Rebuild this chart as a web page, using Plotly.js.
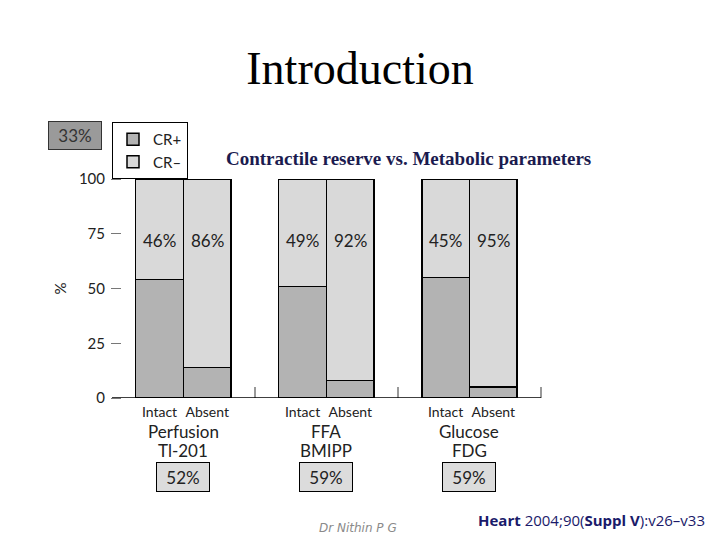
<!DOCTYPE html>
<html>
<head>
<meta charset="utf-8">
<script src="https://cdn.plot.ly/plotly-3.0.1.min.js"></script>
<style>html,body{margin:0;padding:0;background:#fff;}#chart{width:720px;height:540px;}</style>
</head>
<body>
<div id="chart"></div>
<script>
// ---- data ----
const categories = ["Intact", "Absent", "Intact", "Absent", "Intact", "Absent"];
const groupNames = ["Perfusion", "FFA", "Glucose"];
const tracerNames = ["Tl-201", "BMIPP", "FDG"];
const crPlus  = [54, 14, 51, 8, 55, 5];
const crMinus = [46, 86, 49, 92, 45, 95];
const crMinusLabels = ["46%", "86%", "49%", "92%", "45%", "95%"];
const groupPct = ["52%", "59%", "59%"];
const overallPct = "33%";
const yTicks = [0, 25, 50, 75, 100];

// positions: two bars per group, one empty slot between groups
const xPos = categories.map((c, i) => Math.floor(i / 2) * 3 + (i % 2));
const groupCenters = groupNames.map((g, k) => k * 3 + 0.5);
const separators = groupNames.map((g, k) => k * 3 + 2);

const font = "Lato, 'DejaVu Sans', sans-serif";
const ink = "#222";

const traces = [
  {type: "bar", name: "CR+", x: xPos, y: crPlus,
   marker: {color: "#b3b3b3", line: {color: "#000", width: 1.5}}, cliponaxis: false, hoverinfo: "skip"},
  {type: "bar", name: "CR–", x: xPos, y: crMinus,
   marker: {color: "#d9d9d9", line: {color: "#000", width: 1.5}}, cliponaxis: false, hoverinfo: "skip"}
];

const plotL = 122, plotR = 541, plotT = 179, plotB = 398;
const pw = plotR - plotL, ph = plotB - plotT;
const px = (X) => (X - plotL) / pw;
const py = (Y) => (plotB - Y) / ph;

const C = {xanchor: "center", yanchor: "middle", showarrow: false};
const annotations = [];
crMinusLabels.forEach((t, i) => {
  annotations.push(Object.assign({x: xPos[i], y: 72, xref: "x", yref: "y", text: t,
    font: {family: font, size: 17, color: ink}}, C));
});
groupNames.forEach((g, k) => {
  annotations.push(Object.assign({x: groupCenters[k], y: py(431), xref: "x", yref: "paper", text: g,
    font: {family: font, size: 17, color: ink}}, C));
  annotations.push(Object.assign({x: groupCenters[k], y: py(450), xref: "x", yref: "paper", text: tracerNames[k],
    font: {family: font, size: 17, color: ink}}, C));
  annotations.push(Object.assign({x: groupCenters[k], y: py(477), xref: "x", yref: "paper", text: groupPct[k],
    font: {family: font, size: 17, color: ink}, bgcolor: "#dcdcdc", bordercolor: "#000", borderwidth: 1,
    width: 50, height: 26}, C));
});
annotations.push(Object.assign({x: px(75), y: py(135), xref: "paper", yref: "paper", text: overallPct,
  font: {family: font, size: 17, color: "#333"}, bgcolor: "#9a9a9a", bordercolor: "#333", borderwidth: 1,
  width: 50, height: 25}, C));
annotations.push(Object.assign({x: px(408), y: py(158), xref: "paper", yref: "paper",
  text: "<b>Contractile reserve vs. Metabolic parameters</b>",
  font: {family: "'Liberation Serif', serif", size: 19, color: "#1b1b4f"}}, C));
annotations.push(Object.assign({x: px(358), y: py(528), xref: "paper", yref: "paper",
  text: "<i>Dr Nithin P G</i>",
  font: {family: "'DejaVu Sans', sans-serif", size: 12, color: "#8a8a8a"}}, C));
annotations.push(Object.assign({x: px(591), y: py(520), xref: "paper", yref: "paper",
  text: "<b>Heart</b> 2004;90(<b>Suppl V</b>):v26–v33",
  font: {family: "'Open Sans', sans-serif", size: 15, color: "#1a1a6a"}}, C));

const layout = {
  width: 720, height: 540,
  margin: {l: plotL, r: 720 - plotR, t: plotT, b: 540 - plotB, pad: 0},
  paper_bgcolor: "#fff", plot_bgcolor: "#fff",
  title: {text: "Introduction", font: {family: "'Liberation Serif', serif", size: 46, color: "#000"},
    x: 0.5, xref: "container", y: 1 - 68 / 540, yref: "container", yanchor: "middle"},
  barmode: "stack", bargap: 0,
  showlegend: true,
  legend: {x: px(112), y: py(122), xanchor: "left", yanchor: "top", traceorder: "normal",
    bgcolor: "#fff", bordercolor: "#000", borderwidth: 1,
    font: {family: font, size: 15, color: ink}, itemwidth: 30, tracegroupgap: 0},
  xaxis: {range: [-0.787, 8.0], tickmode: "array", tickvals: xPos, ticktext: categories,
    ticks: "", showgrid: false, zeroline: false, showline: false, ticklabelstandoff: 4,
    tickfont: {family: font, size: 14, color: ink},
    minor: {tickmode: "array", tickvals: separators, ticks: "inside", ticklen: 11, tickcolor: "#999", tickwidth: 1.5, showgrid: false},
    fixedrange: true},
  yaxis: {range: [0, 100], tickmode: "array", tickvals: yTicks, ticks: "outside", ticklen: 10,
    tickcolor: "#777", tickwidth: 1, showgrid: false, zeroline: false, showline: false,
    tickfont: {family: font, size: 15, color: ink}, ticklabelstandoff: 3,
    title: {text: "%", font: {family: font, size: 15, color: ink}, standoff: 8},
    fixedrange: true},
  shapes: [
    {type: "line", xref: "paper", yref: "y", x0: px(112), x1: 1, y0: 0, y1: 0,
     line: {color: "#000", width: 1.5}}
  ],
  annotations: annotations
};

Plotly.newPlot("chart", traces, layout, {displayModeBar: false, staticPlot: true});
</script>
</body>
</html>
